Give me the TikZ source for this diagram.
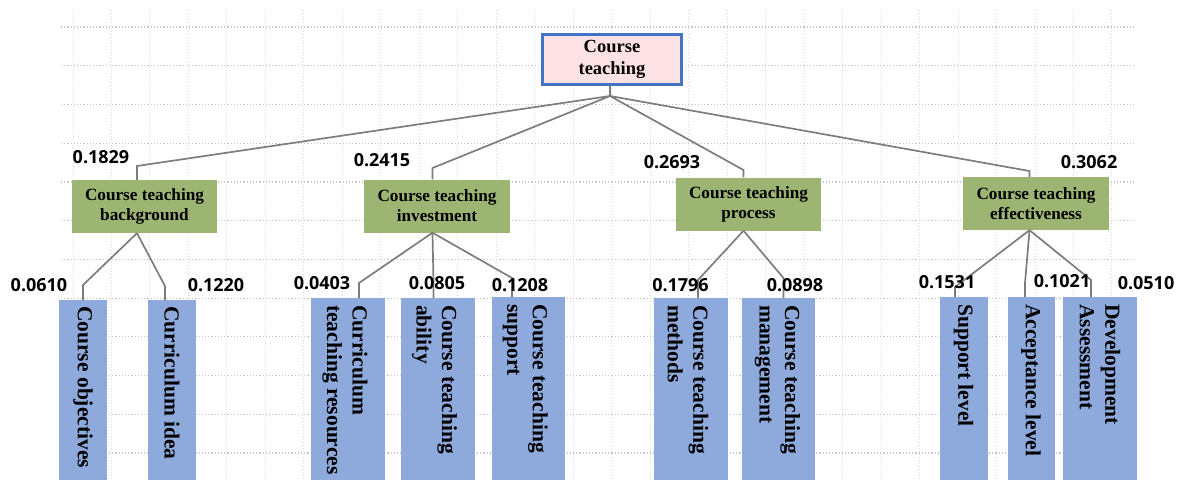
\documentclass[tikz,border=0pt]{standalone}
\usepackage{fontspec}
\setmainfont{Liberation Serif}
\newfontfamily\numfont{Open Sans}
\definecolor{rootfill}{RGB}{252,226,229}
\definecolor{rootline}{RGB}{68,114,196}
\definecolor{midfill}{RGB}{157,181,114}
\definecolor{leaffill}{RGB}{142,169,219}
\definecolor{linkgray}{RGB}{125,125,125}
\definecolor{gridv}{RGB}{218,218,218}
\definecolor{gridh}{RGB}{200,200,200}
\begin{document}
\begin{tikzpicture}[x=1pt,y=-1pt,
 rootbox/.style={draw=rootline, line width=3pt, fill=rootfill, minimum width=139pt, minimum height=50pt, align=center, font=\bfseries\fontsize{18.5}{22}\selectfont, inner sep=0pt},
 midbox/.style={fill=midfill, minimum height=53pt, align=center, font=\bfseries\fontsize{17.2}{20}\selectfont, inner sep=0pt},
 leafbox/.style={fill=leaffill, anchor=north, inner sep=0pt},
 leaftext/.style={rotate=-90, anchor=west, align=left, font=\bfseries\fontsize{21.5}{25.5}\selectfont, inner sep=0pt},
 wlabel/.style={font=\numfont\bfseries\fontsize{18}{20}\selectfont, inner sep=0pt},
 link/.style={draw=linkgray, line width=1.7pt},
 vgrid/.style={draw=gridv, line width=1pt, dotted},
 hgrid/.style={draw=gridh, line width=1.2pt, dotted},
]
\useasboundingbox (0,0) rectangle (1178,480);
% grid
\foreach \i in {0,...,27} \draw[vgrid] ({73+38.48*\i},10) -- ({73+38.48*\i},480);
\foreach \j in {0,...,11} \draw[hgrid] (61,{27+38.73*\j}) -- (1135,{27+38.73*\j});

% root
\node[rootbox] (root) at (612,59.5) {Course\\teaching};

% level 1
\node[midbox, minimum width=145pt] (bg)   at (144.5,206.5) {Course teaching\\background};
\node[midbox, minimum width=146pt] (inv)  at (437,206)     {Course teaching\\investment};
\node[midbox, minimum width=145pt] (proc) at (748.5,204)   {Course teaching\\process};
\node[midbox, minimum width=146pt] (eff)  at (1036,203.5)  {Course teaching\\effectiveness};

% leaves
\node[leafbox, minimum width=48pt, minimum height=180pt] (obj)  at (83,300)    {};
\node[leafbox, minimum width=48pt, minimum height=180pt] (idea) at (172,300)   {};
\node[leafbox, minimum width=74pt, minimum height=182pt] (res)  at (348,298)   {};
\node[leafbox, minimum width=74pt, minimum height=182pt] (abil) at (437.6,298) {};
\node[leafbox, minimum width=73pt, minimum height=183pt] (supp) at (528.4,297) {};
\node[leafbox, minimum width=73.5pt, minimum height=182pt] (meth) at (691,298) {};
\node[leafbox, minimum width=73pt, minimum height=182pt] (mgmt) at (778.4,298) {};
\node[leafbox, minimum width=48pt, minimum height=183pt] (slev) at (963.5,297) {};
\node[leafbox, minimum width=47pt, minimum height=183pt] (alev) at (1031,297)  {};
\node[leafbox, minimum width=74pt, minimum height=183pt] (dev)  at (1100,297)  {};

\node[leaftext] (objT)  at ([yshift=-6pt]obj.north)  {Course objectives};
\node[leaftext] (ideaT) at ([yshift=-6pt]idea.north) {Curriculum idea};
\node[leaftext] (resT)  at ([xshift=-3pt,yshift=-7pt]res.north)  {Curriculum\\teaching resources};
\node[leaftext] (abilT) at ([xshift=-3pt,yshift=-7pt]abil.north) {Course teaching\\ability};
\node[leaftext] (suppT) at ([xshift=-3pt,yshift=-7pt]supp.north) {Course teaching\\support};
\node[leaftext] (methT) at ([xshift=-3pt,yshift=-7pt]meth.north) {Course teaching\\methods};
\node[leaftext] (mgmtT) at ([xshift=-1pt,yshift=-7pt]mgmt.north) {Course teaching\\management};
\node[leaftext] (slevT) at ([yshift=-7pt]slev.north) {Support level};
\node[leaftext] (alevT) at ([yshift=-7pt]alev.north) {Acceptance level};
\node[leaftext] (devT)  at ([yshift=-7pt]dev.north)  {Development\\Assessment};

% connectors root -> level 1
\coordinate (hub) at (610,96);
\coordinate (bgK) at (137,166);
\coordinate (invK) at (432.5,168);
\coordinate (procK) at (743.5,170);
\coordinate (effK) at (1029.5,171);
\draw[link] (root.south -| hub) -- (hub);
\draw[link] (hub) -- (bgK) -- (bgK |- bg.north);
\draw[link] (hub) -- (invK) -- (invK |- inv.north);
\draw[link] (hub) -- (procK) -- (procK |- proc.north);
\draw[link] (hub) -- (effK) -- (effK |- eff.north);

% connectors level 1 -> leaves
\coordinate (objK) at (83,285);
\coordinate (ideaK) at (165,286);
\coordinate (resK) at (359,283);
\coordinate (abilK) at (433.5,283);
\coordinate (suppK) at (512,278);
\coordinate (methK) at (698,280);
\coordinate (mgmtK) at (783.5,278);
\coordinate (slevK) at (955,287);
\coordinate (alevK) at (1025,283);
\coordinate (devK) at (1091,280);
\draw[link] (bg.south -| bgK) -- (objK) -- (objK |- obj.north);
\draw[link] (bg.south -| bgK) -- (ideaK) -- (ideaK |- idea.north);
\draw[link] (inv.south -| invK) -- (resK) -- (resK |- res.north);
\draw[link] (inv.south -| invK) -- (abilK) -- (abilK |- abil.north);
\draw[link] (inv.south -| invK) -- (suppK) -- (suppK |- supp.north);
\draw[link] (proc.south -| procK) -- (methK) -- (methK |- meth.north);
\draw[link] (proc.south -| procK) -- (mgmtK) -- (mgmtK |- mgmt.north);
\draw[link] (eff.south -| effK) -- (slevK) -- (slevK |- slev.north);
\draw[link] (eff.south -| effK) -- (alevK) -- (alevK |- alev.north);
\draw[link] (eff.south -| effK) -- (devK) -- (devK |- dev.north);

% weights
\node[wlabel] (wbg)   at (101,157)  {0.1829};
\node[wlabel] (winv)  at (382,160)  {0.2415};
\node[wlabel] (wproc) at (672,162)  {0.2693};
\node[wlabel] (weff)  at (1089,162) {0.3062};
\node[wlabel] (wobj)  at (39,285)   {0.0610};
\node[wlabel] (widea) at (216,285)  {0.1220};
\node[wlabel] (wres)  at (322,283)  {0.0403};
\node[wlabel] (wabil) at (437,283)  {0.0805};
\node[wlabel] (wsupp) at (520,285)  {0.1208};
\node[wlabel] (wmeth) at (680.5,285) {0.1796};
\node[wlabel] (wmgmt) at (795,285)  {0.0898};
\node[wlabel] (wslev) at (947,282)  {0.1531};
\node[wlabel] (walev) at (1062,281) {0.1021};
\node[wlabel] (wdev)  at (1146,283) {0.0510};
\end{tikzpicture}
\end{document}
